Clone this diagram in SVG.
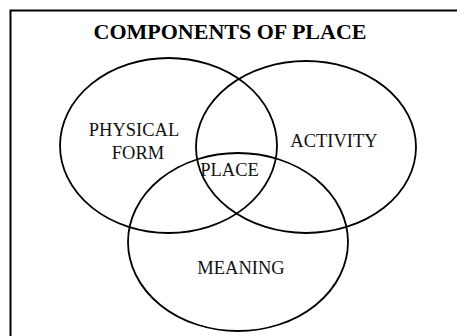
<svg xmlns="http://www.w3.org/2000/svg" width="457" height="336" viewBox="0 0 457 336">
<style>
.c{fill:none;stroke:#000;stroke-width:1.8}
.t{font-family:"Liberation Serif","Times New Roman",serif;font-size:18.5px;fill:#111;text-anchor:middle}
.h{font-family:"Liberation Serif","Times New Roman",serif;font-size:22px;font-weight:bold;fill:#000;text-anchor:middle}
</style>
<rect width="457" height="336" fill="#fff"/>
<path d="M10.5 340 V10.5 H460" fill="none" stroke="#000" stroke-width="2"/>
<text class="h" x="230" y="38.5">COMPONENTS OF PLACE</text>
<g id="physical-form">
<ellipse class="c" cx="168.5" cy="145.5" rx="108.5" ry="87.5"/>
<text class="t" x="134" y="136">PHYSICAL</text>
<text class="t" x="138" y="159">FORM</text>
</g>
<g id="activity">
<ellipse class="c" cx="306" cy="147" rx="110" ry="86"/>
<text class="t" x="334" y="146.5">ACTIVITY</text>
</g>
<g id="meaning">
<ellipse class="c" cx="238" cy="242" rx="110" ry="89"/>
<text class="t" x="241" y="273.5">MEANING</text>
</g>
<g id="place">
<text class="t" x="229.5" y="176">PLACE</text>
</g>
<g id="connectors"/>
</svg>
